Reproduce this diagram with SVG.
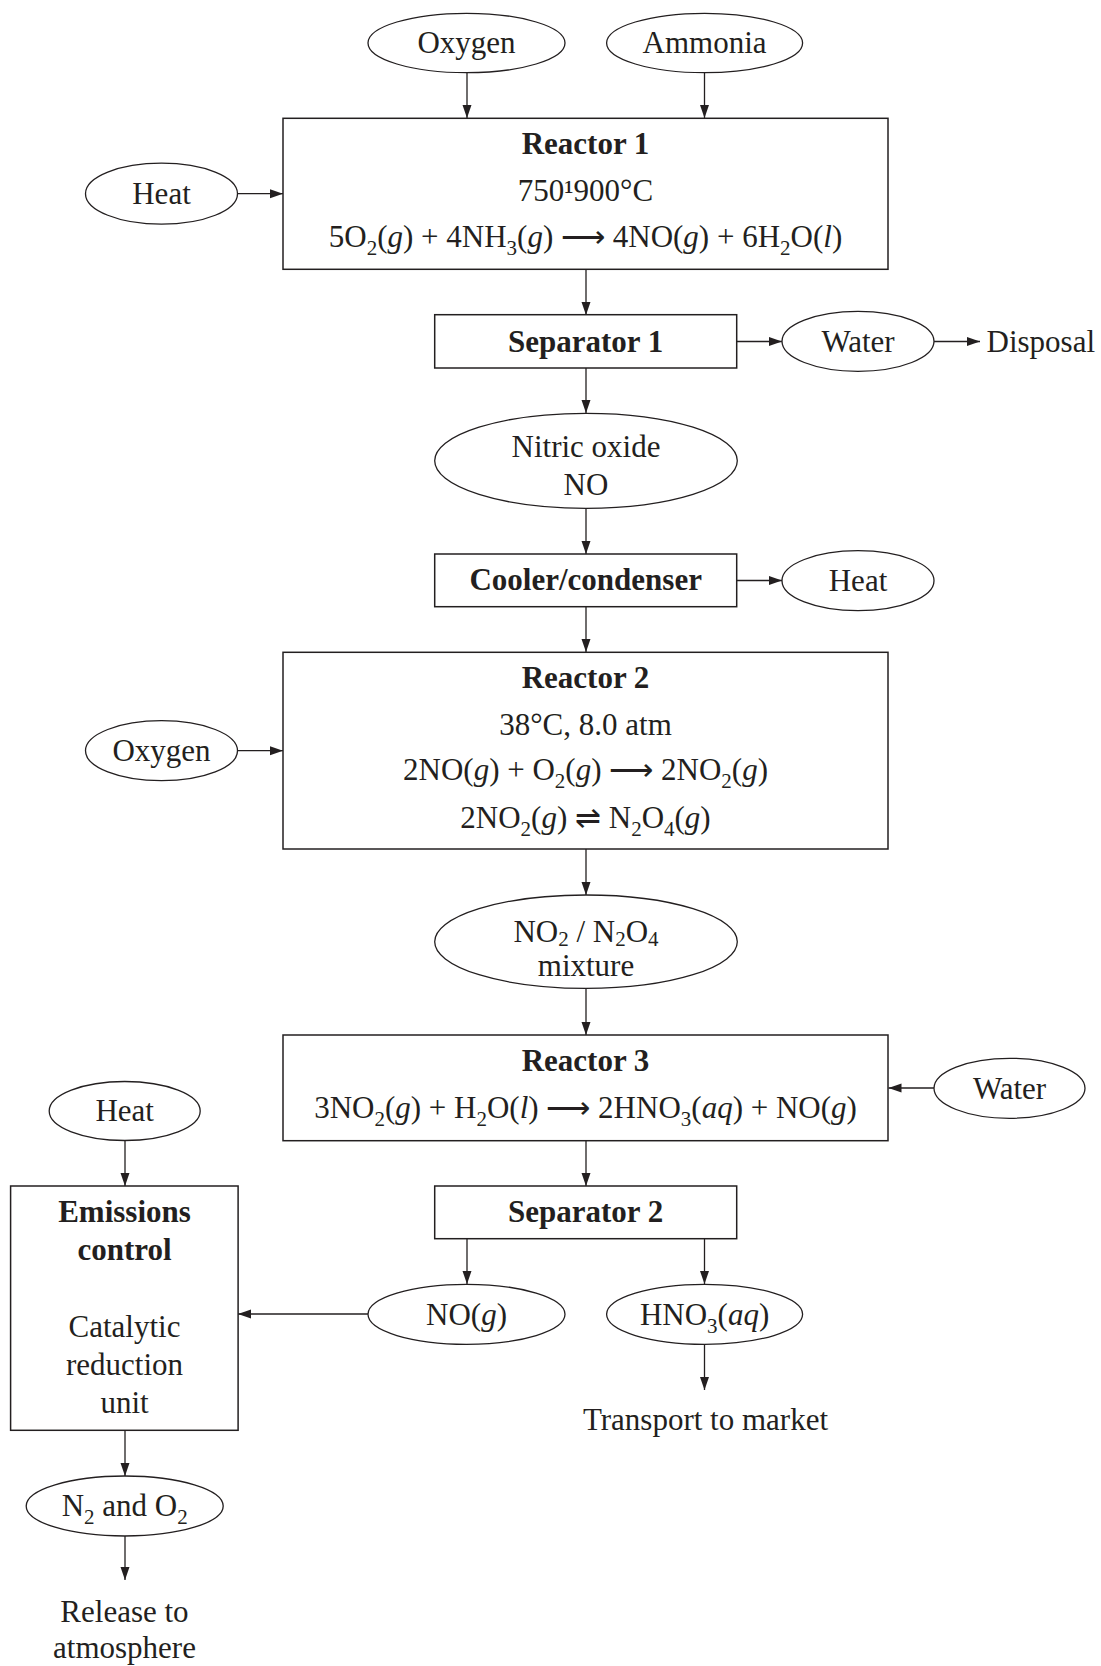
<svg xmlns="http://www.w3.org/2000/svg" width="1101" height="1666" viewBox="0 0 1101 1666">
<defs>
<style>
.t{font-family:"Liberation Serif","Times New Roman",serif;font-size:31px;fill:#231f20;text-anchor:middle}
.l{text-anchor:start}
.b{font-weight:bold}
.s{font-size:21px}
.i{font-style:italic}
.box{fill:#fff;stroke:#231f20;stroke-width:1.5}
.ell{fill:#fff;stroke:#231f20;stroke-width:1.3}
.c{stroke:#231f20;stroke-width:1.3;fill:none;marker-end:url(#ah)}
</style>
<marker id="ah" markerUnits="userSpaceOnUse" markerWidth="14" markerHeight="10" refX="13" refY="4.5" orient="auto">
<path d="M0,0 L13,4.5 L0,9 z" fill="#231f20"/>
</marker>
</defs>
<rect width="1101" height="1666" fill="#fff"/>

<g id="connectors">
<line class="c" x1="467" y1="73" x2="467" y2="118"/>
<line class="c" x1="704.5" y1="73" x2="704.5" y2="118"/>
<line class="c" x1="237.5" y1="193.7" x2="283" y2="193.7"/>
<line class="c" x1="586" y1="270" x2="586" y2="315"/>
<line class="c" x1="737" y1="341.5" x2="782" y2="341.5"/>
<line class="c" x1="934" y1="341.5" x2="980" y2="341.5"/>
<line class="c" x1="586" y1="368" x2="586" y2="413"/>
<line class="c" x1="586" y1="508.5" x2="586" y2="554"/>
<line class="c" x1="737" y1="580.5" x2="782" y2="580.5"/>
<line class="c" x1="586" y1="607" x2="586" y2="652"/>
<line class="c" x1="237.5" y1="750.7" x2="283" y2="750.7"/>
<line class="c" x1="586" y1="849" x2="586" y2="895"/>
<line class="c" x1="586" y1="988.5" x2="586" y2="1035"/>
<line class="c" x1="934" y1="1088" x2="888.5" y2="1088"/>
<line class="c" x1="586" y1="1141" x2="586" y2="1186"/>
<line class="c" x1="467" y1="1239" x2="467" y2="1284"/>
<line class="c" x1="704.5" y1="1239" x2="704.5" y2="1284"/>
<line class="c" x1="368" y1="1314" x2="238" y2="1314"/>
<line class="c" x1="704.5" y1="1344.5" x2="704.5" y2="1390"/>
<line class="c" x1="125" y1="1141" x2="125" y2="1186"/>
<line class="c" x1="125" y1="1430.5" x2="125" y2="1476"/>
<line class="c" x1="125" y1="1536" x2="125" y2="1580"/>
</g>

<g id="oxygen1"><ellipse class="ell" cx="466.5" cy="43" rx="98.5" ry="29.7"/><text class="t" x="466.5" y="53">Oxygen</text></g>
<g id="ammonia"><ellipse class="ell" cx="704.6" cy="43" rx="98" ry="29.7"/><text class="t" x="704.6" y="53">Ammonia</text></g>
<g id="heat1"><ellipse class="ell" cx="161.5" cy="193.7" rx="76" ry="30.5"/><text class="t" x="161.5" y="204">Heat</text></g>

<g id="reactor1"><rect class="box" x="283" y="118.3" width="605" height="151"/>
<text class="t b" x="585.5" y="154">Reactor 1</text>
<text class="t" x="585.5" y="201">750¹900°C</text>
<text class="t" x="585.5" y="247">5O<tspan class="s" dy="8">2</tspan><tspan dy="-8">(</tspan><tspan class="i">g</tspan>) + 4NH<tspan class="s" dy="8">3</tspan><tspan dy="-8">(</tspan><tspan class="i">g</tspan>) ⟶ 4NO(<tspan class="i">g</tspan>) + 6H<tspan class="s" dy="8">2</tspan><tspan dy="-8">O(</tspan><tspan class="i">l</tspan>)</text>
</g>

<g id="separator1"><rect class="box" x="434.7" y="314.7" width="302" height="53.3"/><text class="t b" x="585.7" y="351.5">Separator 1</text></g>
<g id="water1"><ellipse class="ell" cx="858" cy="341.3" rx="76" ry="30"/><text class="t" x="858" y="351.5">Water</text></g>
<g id="disposal"><text class="t l" x="986.5" y="351.7">Disposal</text></g>

<g id="nitricoxide"><ellipse class="ell" cx="586" cy="460.8" rx="151.3" ry="47.5"/>
<text class="t" x="586" y="456.7">Nitric oxide</text>
<text class="t" x="586" y="495">NO</text></g>

<g id="cooler"><rect class="box" x="434.7" y="554" width="302" height="52.7"/><text class="t b" x="585.7" y="590">Cooler/condenser</text></g>
<g id="heat2"><ellipse class="ell" cx="858" cy="580.7" rx="76" ry="30"/><text class="t" x="858" y="591">Heat</text></g>

<g id="oxygen2"><ellipse class="ell" cx="161.5" cy="750.7" rx="76" ry="30"/><text class="t" x="161.5" y="761">Oxygen</text></g>
<g id="reactor2"><rect class="box" x="283" y="652.3" width="605" height="196.7"/>
<text class="t b" x="585.5" y="688.3">Reactor 2</text>
<text class="t" x="585.5" y="735">38°C, 8.0 atm</text>
<text class="t" x="585.5" y="780">2NO(<tspan class="i">g</tspan>) + O<tspan class="s" dy="8">2</tspan><tspan dy="-8">(</tspan><tspan class="i">g</tspan>) ⟶ 2NO<tspan class="s" dy="8">2</tspan><tspan dy="-8">(</tspan><tspan class="i">g</tspan>)</text>
<text class="t" x="585.5" y="828.3">2NO<tspan class="s" dy="8">2</tspan><tspan dy="-8">(</tspan><tspan class="i">g</tspan>) ⇌ N<tspan class="s" dy="8">2</tspan><tspan dy="-8">O</tspan><tspan class="s" dy="8">4</tspan><tspan dy="-8">(</tspan><tspan class="i">g</tspan>)</text>
</g>

<g id="mixture"><ellipse class="ell" cx="586" cy="941.7" rx="151.3" ry="46.7"/>
<text class="t" x="586" y="942">NO<tspan class="s" dy="4">2</tspan><tspan dy="-4"> / N</tspan><tspan class="s" dy="4">2</tspan><tspan dy="-4">O</tspan><tspan class="s" dy="4">4</tspan></text>
<text class="t" x="586" y="976">mixture</text></g>

<g id="reactor3"><rect class="box" x="283" y="1035" width="605" height="105.7"/>
<text class="t b" x="585.5" y="1071">Reactor 3</text>
<text class="t" x="585.5" y="1117.7">3NO<tspan class="s" dy="8">2</tspan><tspan dy="-8">(</tspan><tspan class="i">g</tspan>) + H<tspan class="s" dy="8">2</tspan><tspan dy="-8">O(</tspan><tspan class="i">l</tspan>) ⟶ 2HNO<tspan class="s" dy="8">3</tspan><tspan dy="-8">(</tspan><tspan class="i">aq</tspan>) + NO(<tspan class="i">g</tspan>)</text>
</g>
<g id="water2"><ellipse class="ell" cx="1009.5" cy="1088.3" rx="75.5" ry="30"/><text class="t" x="1009.5" y="1098.5">Water</text></g>

<g id="heat3"><ellipse class="ell" cx="124.7" cy="1111" rx="75.5" ry="29.5"/><text class="t" x="124.7" y="1121">Heat</text></g>
<g id="emissions"><rect class="box" x="10.6" y="1186" width="227.5" height="244.3"/>
<text class="t b" x="124.5" y="1221.7">Emissions</text>
<text class="t b" x="124.5" y="1260">control</text>
<text class="t" x="124.5" y="1336.7">Catalytic</text>
<text class="t" x="124.5" y="1375">reduction</text>
<text class="t" x="124.5" y="1413.3">unit</text>
</g>

<g id="separator2"><rect class="box" x="434.7" y="1186" width="302" height="52.7"/><text class="t b" x="585.7" y="1221.7">Separator 2</text></g>
<g id="nog"><ellipse class="ell" cx="466.5" cy="1314.3" rx="98.5" ry="30"/><text class="t" x="466.5" y="1324.5">NO(<tspan class="i">g</tspan>)</text></g>
<g id="hno3"><ellipse class="ell" cx="704.6" cy="1314.3" rx="98" ry="30"/><text class="t" x="704.6" y="1324.5">HNO<tspan class="s" dy="8">3</tspan><tspan dy="-8">(</tspan><tspan class="i">aq</tspan>)</text></g>
<g id="transport"><text class="t" x="705.5" y="1430">Transport to market</text></g>

<g id="n2o2"><ellipse class="ell" cx="124.7" cy="1506" rx="98.5" ry="30"/><text class="t" x="124.7" y="1516">N<tspan class="s" dy="8">2</tspan><tspan dy="-8"> and O</tspan><tspan class="s" dy="8">2</tspan></text></g>
<g id="release"><text class="t" x="124.5" y="1621.7">Release to</text><text class="t" x="124.5" y="1658.3">atmosphere</text></g>
</svg>
